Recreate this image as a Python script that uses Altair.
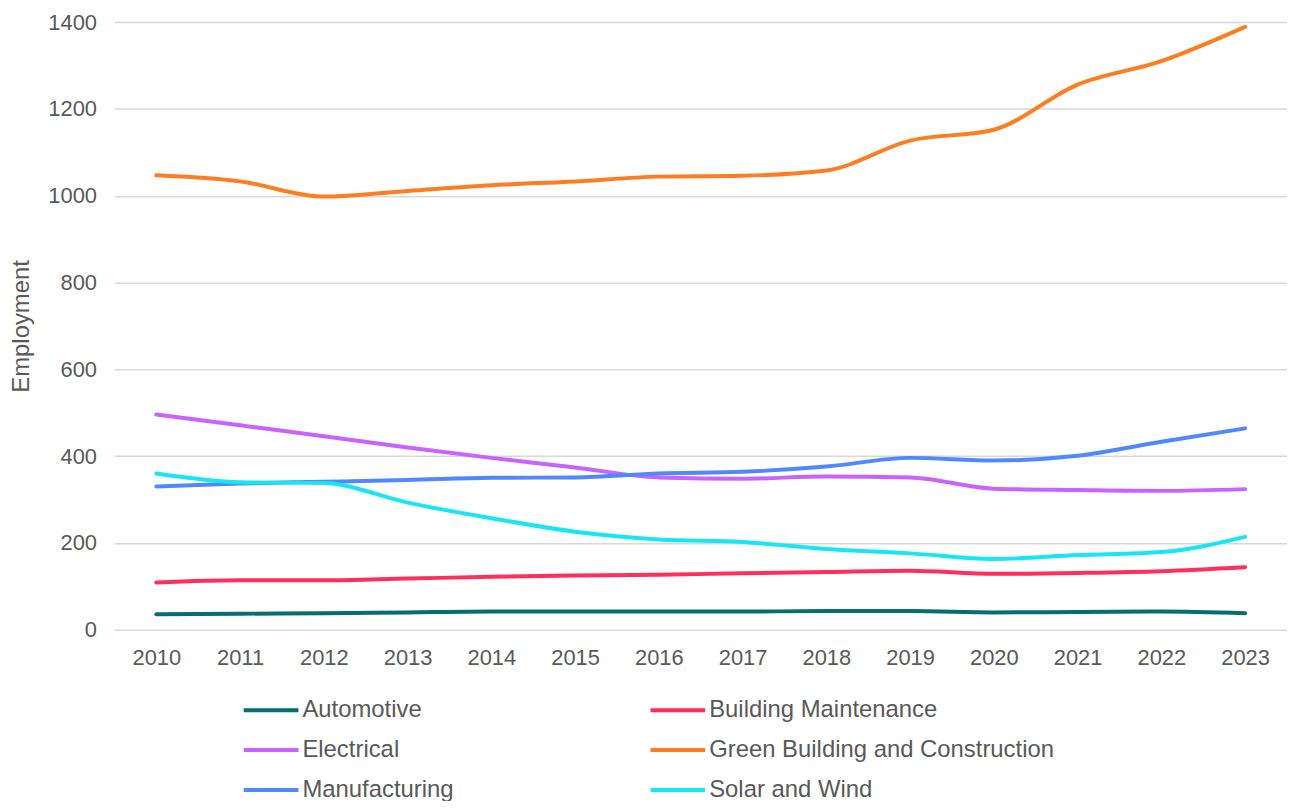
import altair as alt
import pandas as pd

years = [str(y) for y in range(2010, 2024)]
series_names = ["Automotive", "Building Maintenance", "Electrical",
                "Green Building and Construction", "Manufacturing", "Solar and Wind"]
automotive = [36, 37, 38, 40, 42, 42, 42, 42, 43, 43, 40, 41, 42, 38]
building_maintenance = [109, 114, 114, 118, 122, 125, 127, 130, 133, 136, 129, 131, 135, 144]
electrical = [496, 471, 446, 420, 396, 374, 351, 348, 353, 351, 325, 322, 320, 324]
green_building = [1047, 1033, 998, 1011, 1024, 1033, 1044, 1046, 1058, 1127, 1152, 1256, 1310, 1389]
manufacturing = [330, 337, 341, 345, 350, 351, 360, 364, 376, 396, 390, 401, 433, 464]
solar_wind = [360, 340, 338, 293, 257, 226, 208, 202, 186, 176, 163, 172, 179, 214]
colors = ["#056E6E", "#FF2E5B", "#C963FF", "#FF7D21", "#5088FF", "#17E7F5"]

all_values = [automotive, building_maintenance, electrical, green_building, manufacturing, solar_wind]
rows = []
for name, vals in zip(series_names, all_values):
    for y, v in zip(years, vals):
        rows.append({"Year": y, "Series": name, "Employment": v})
df = pd.DataFrame(rows)

# legend fills column by column: reorder so rows read left-to-right as in the reference
legend_order = [0, 2, 4, 1, 3, 5]
domain = [series_names[i] for i in legend_order]
rng = [colors[i] for i in legend_order]

FONT = "Liberation Sans"
TXT = "#595959"

chart = alt.Chart(df).mark_line(strokeWidth=4, strokeCap="round", interpolate="monotone").encode(
    x=alt.X("Year:O", sort=years,
            scale=alt.Scale(type="point", padding=0.5),
            axis=alt.Axis(title=None, labelAngle=0, domain=False, ticks=False, grid=False,
                          labelFontSize=22, labelColor=TXT, labelFont=FONT, labelPadding=18)),
    y=alt.Y("Employment:Q",
            scale=alt.Scale(domain=[0, 1400], nice=False),
            axis=alt.Axis(values=[0, 200, 400, 600, 800, 1000, 1200, 1400], format="d",
                          domain=False, ticks=False, gridColor="#D9D9D9", gridWidth=1.5,
                          labelFontSize=22, labelColor=TXT, labelFont=FONT, labelPadding=18,
                          title="Employment", titleFontSize=24, titleFontWeight="normal",
                          titleColor=TXT, titleFont=FONT, titleX=-86,
                          titleBaseline="alphabetic")),
    color=alt.Color("Series:N",
                    scale=alt.Scale(domain=domain, range=rng),
                    legend=alt.Legend(title=None, orient="none", legendX=128, legendY=680,
                                      direction="vertical", columns=2,
                                      symbolType="stroke", symbolSize=3025, symbolStrokeWidth=4,
                                      labelFontSize=24, labelColor=TXT, labelFont=FONT,
                                      labelOffset=2, columnPadding=195, rowPadding=16,
                                      clipHeight=24, labelLimit=400)),
).properties(
    width=1179, height=611,
    padding={"left": 107, "top": 12, "right": 0, "bottom": 170},
    autosize=alt.AutoSizeParams(type="none"),
).configure_view(stroke=None)

chart.save("out.html", embed_options={"renderer": "svg", "actions": False})
